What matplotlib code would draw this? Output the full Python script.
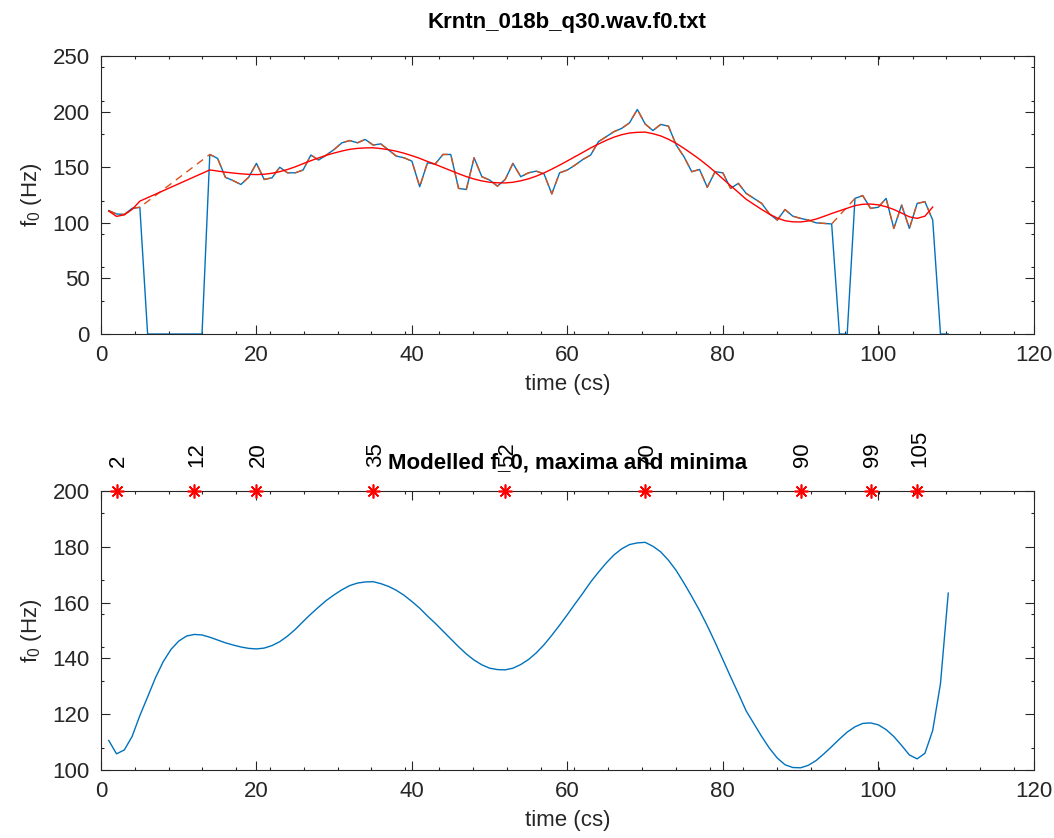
import matplotlib.pyplot as plt
from matplotlib.ticker import MultipleLocator

plt.rcParams['font.family'] = ['Liberation Sans', 'DejaVu Sans']
plt.rcParams['mathtext.default'] = 'regular'
plt.rcParams['font.size'] = 16

# frames (centiseconds)
time_cs = list(range(1, 110))

# raw f0 track, 0 = unvoiced
f0_raw = [
    111, 108, 107.5, 113, 114, 0, 0, 0, 0, 0,
    0, 0, 0, 161.5, 158, 141, 138, 134.5, 141, 153.5,
    139, 140.5, 150, 145, 145, 147.5, 161, 156.5, 161, 166,
    172, 174, 172, 175, 170, 171, 165.5, 160, 158.5, 155.5,
    132.5, 154, 153, 161.5, 161.5, 131, 130, 158.5, 141.5, 138.5,
    133, 139, 153.5, 141.5, 145, 146.5, 144, 126, 145, 147.5,
    152, 157, 161, 173, 177.5, 182, 185, 190, 202, 189,
    183, 188.5, 187, 170, 159.5, 146, 148, 132, 146, 145,
    131, 135.5, 126.5, 122, 117.5, 108, 102.5, 112, 106, 104,
    102.5, 100, 99.5, 99, 0, 0, 122, 124.5, 113, 114,
    122, 95, 116, 95, 117.5, 119, 102.5, 0, 0,
]

# modelled (smoothed) f0
f0_model = [
    110.6, 105.8, 107.2, 112, 119.5, 126.2, 133, 138.8, 143.2, 146.2,
    148, 148.6, 148.4, 147.6, 146.6, 145.6, 144.8, 144.1, 143.6, 143.4,
    143.7, 144.6, 146, 148, 150.4, 153.2, 155.9, 158.4, 160.8, 162.8,
    164.6, 166.1, 167, 167.4, 167.5, 166.8, 165.8, 164.4, 162.6, 160.4,
    158, 155.2, 152.6, 149.8, 147, 144.2, 141.6, 139.4, 137.7, 136.5,
    136.0, 135.9, 136.5, 137.8, 139.6, 142, 144.9, 148.3, 151.9, 155.7,
    159.6, 163.4, 167.4, 170.9, 174.2, 177.1, 179.3, 180.8, 181.4, 181.6,
    180.2, 178.2, 175.2, 171.5, 167, 162.2, 157.2, 151.7, 145.8, 139.6,
    133.4, 127.4, 121.2, 116.6, 112, 107.8, 104.3, 101.9, 100.9, 100.8,
    101.7, 103.4, 105.8, 108.4, 111.1, 113.6, 115.5, 116.7, 116.9, 116.2,
    114.5, 112, 108.8, 105.4, 104, 106, 114.2, 131, 163.4,
]
model_end = 107  # red fit in the upper panel stops here

extrema_cs = [2, 12, 20, 35, 52, 70, 90, 99, 105]
marker_level = 200

blue = '#0072BD'
orange = '#D95319'
axcol = '#262626'


def style_axes(ax, ymin, ymax, ystep, yminor):
    ax.set_xlim(0, 120)
    ax.set_ylim(ymin, ymax)
    ax.xaxis.set_major_locator(MultipleLocator(20))
    ax.xaxis.set_minor_locator(MultipleLocator(4.35))
    ax.yaxis.set_major_locator(MultipleLocator(ystep))
    ax.yaxis.set_minor_locator(MultipleLocator(yminor))
    ax.tick_params(which='both', direction='in', top=True, right=True,
                   colors=axcol, labelsize=16, width=0.8)
    ax.tick_params(which='major', length=6.5, pad=8)
    ax.tick_params(which='minor', length=2.5)
    for s in ax.spines.values():
        s.set_color(axcol)
        s.set_linewidth(0.8)
    ax.set_xlabel('time (cs)', color=axcol, fontsize=16, labelpad=6)
    ax.set_ylabel('f$_0$ (Hz)', color=axcol, fontsize=16, labelpad=6)


fig = plt.figure(figsize=(10.54, 8.38), dpi=100)
ax_top = fig.add_axes([0.0958, 0.6014, 0.885, 0.3317])
ax_bot = fig.add_axes([0.0958, 0.0811, 0.885, 0.3330])

# upper panel: raw track, voiced-only track and fit on voiced frames
voiced = [i for i, f in enumerate(f0_raw) if f > 0]
voiced_t = [time_cs[i] for i in voiced]
voiced_f = [f0_raw[i] for i in voiced]
fit_t = [time_cs[i] for i in voiced if i < model_end]
fit_f = [f0_model[i] for i in voiced if i < model_end]
ax_top.plot(time_cs, f0_raw, color=blue, lw=1.0)
ax_top.plot(voiced_t, voiced_f, color=orange, lw=1.0, dashes=(5.5, 4))
ax_top.plot(fit_t, fit_f, color='red', lw=1.0)
style_axes(ax_top, 0, 250, 50, 30)
ax_top.set_title('Krntn_018b_q30.wav.f0.txt', fontsize=16, fontweight='bold',
                 pad=20)

# lower panel: modelled f0 with turning points
ax_bot.plot(time_cs, f0_model, color=blue, lw=1.0)
ax_bot.plot(extrema_cs, [marker_level] * len(extrema_cs), ls='none',
            marker=(8, 2, 0), ms=10, mew=1.2, color='red', clip_on=False,
            zorder=5)
for t in extrema_cs:
    ax_bot.text(t + 0.3, marker_level + 8.5, str(t), rotation=90,
                ha='center', va='bottom', fontsize=16, color='black',
                clip_on=False)
style_axes(ax_bot, 100, 200, 20, 12)
ax_bot.set_title('Modelled f_0, maxima and minima', fontsize=16,
                 fontweight='bold', pad=16)

fig.savefig('out.png', dpi=100)
